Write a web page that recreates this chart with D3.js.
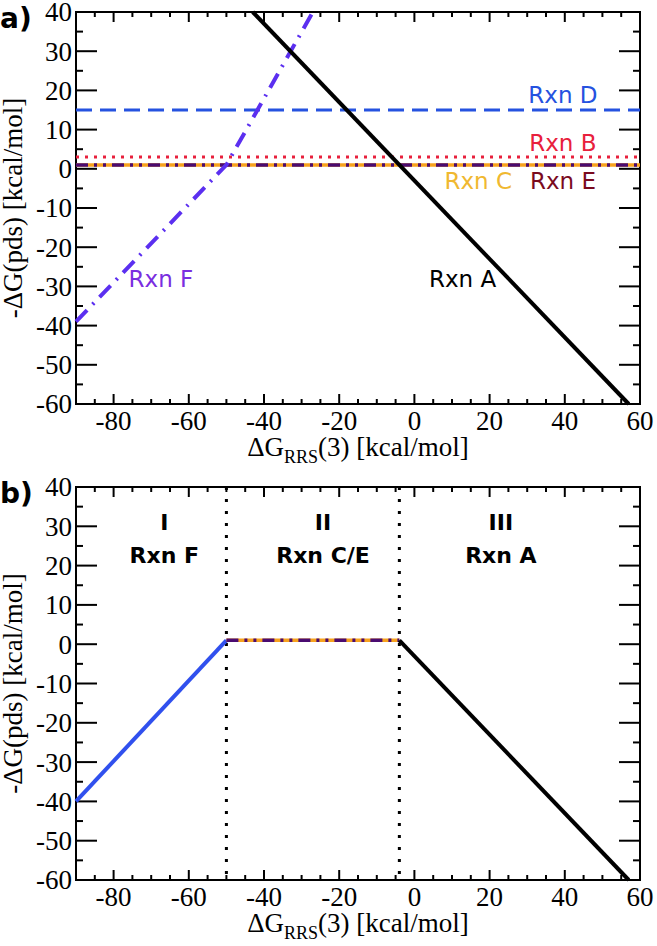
<!DOCTYPE html>
<html>
<head>
<meta charset="utf-8">
<script src="https://cdn.jsdelivr.net/npm/d3@7"></script>
<style>
  body { margin: 0; background: #fff; }
  svg { display: block; }
</style>
</head>
<body>
<script>
// axis ticks
const xTicks = [-80, -60, -40, -20, 0, 20, 40, 60];
const yTicks = [40, 30, 20, 10, 0, -10, -20, -30, -40, -50, -60];

// panel a) lines, [x, y] in kcal/mol
const rxnA = [[-43, 40], [57, -60]];
const rxnB = [[-90, 3], [60, 3]];
const rxnC = [[-90, 1], [60, 1]];
const rxnD = [[-90, 15], [60, 15]];
const rxnE = [[-90, 1], [60, 1]];
const rxnF = [[-90, -39], [-50, 1], [-27, 40]];

// panel a) labels
const labelNames = ["Rxn D", "Rxn B", "Rxn C", "Rxn E", "Rxn F", "Rxn A"];
const labelX = [39.5, 39.5, 17, 39.5, -67.4, 12.8];
const labelY = [18.8, 6.7, -3.1, -3.1, -28.1, -28.1];

// panel b) piecewise envelope
const regionF = [[-90, -40], [-50, 1]];
const regionCE = [[-50, 1], [-4, 1]];
const regionA = [[-4, 1], [57, -60]];
const boundaries = [-50, -4];
const regionNum = ["I", "II", "III"];
const regionRxn = ["Rxn F", "Rxn C/E", "Rxn A"];
const regionLabelX = [-66.5, -24.3, 23];

const width = 657;
const height = 946;
const left = 76;
const right = 640;

const svg = d3
  .select("body")
  .append("svg")
  .attr("width", width)
  .attr("height", height);

const x = d3.scaleLinear().domain([-90, 60]).range([left, right]);

function drawFrame(top, bottom, tag) {
  const y = d3.scaleLinear().domain([-60, 40]).range([bottom, top]);
  const g = svg.append("g");

  // ticks, inside on every side
  const major = { tb: 10, lr: 21 };
  const minor = { tb: 5, lr: 7 };
  d3.range(-85, 60, 5).forEach(v => {
    const len = v % 20 === 0 ? major.tb : minor.tb;
    g.append("line").attr("x1", x(v)).attr("x2", x(v))
      .attr("y1", bottom).attr("y2", bottom - len)
      .attr("stroke", "#000").attr("stroke-width", 2);
    g.append("line").attr("x1", x(v)).attr("x2", x(v))
      .attr("y1", top).attr("y2", top + len)
      .attr("stroke", "#000").attr("stroke-width", 2);
  });
  d3.range(-55, 40, 5).forEach(v => {
    const len = v % 10 === 0 ? major.lr : minor.lr;
    g.append("line").attr("x1", left).attr("x2", left + len)
      .attr("y1", y(v)).attr("y2", y(v))
      .attr("stroke", "#000").attr("stroke-width", 2);
    g.append("line").attr("x1", right).attr("x2", right - len)
      .attr("y1", y(v)).attr("y2", y(v))
      .attr("stroke", "#000").attr("stroke-width", 2);
  });

  g.append("rect")
    .attr("x", left).attr("y", top)
    .attr("width", right - left).attr("height", bottom - top)
    .attr("fill", "none").attr("stroke", "#000").attr("stroke-width", 2);

  const serif = "'Liberation Serif', 'DejaVu Serif', serif";

  g.selectAll(".yt")
    .data(yTicks)
    .enter()
    .append("text")
    .attr("x", left - 4)
    .attr("y", d => y(d))
    .attr("dy", "0.35em")
    .attr("text-anchor", "end")
    .attr("font-family", serif)
    .attr("font-size", 27)
    .text(d => d);

  g.selectAll(".xt")
    .data(xTicks)
    .enter()
    .append("text")
    .attr("x", d => x(d))
    .attr("y", bottom + 26)
    .attr("text-anchor", "middle")
    .attr("font-family", serif)
    .attr("font-size", 27)
    .text(d => d);

  const xt = g.append("text")
    .attr("x", (left + right) / 2)
    .attr("y", bottom + 52)
    .attr("text-anchor", "middle")
    .attr("font-family", serif)
    .attr("font-size", 27);
  xt.append("tspan").text("\u0394G");
  xt.append("tspan").attr("font-size", 18).attr("dy", 7).text("RRS");
  xt.append("tspan").attr("dy", -7).text("(3) [kcal/mol]");

  g.append("text")
    .attr("transform", "translate(22," + (top + bottom) / 2 + ") rotate(-90)")
    .attr("text-anchor", "middle")
    .attr("font-family", serif)
    .attr("font-size", 27)
    .text("-\u0394G(pds) [kcal/mol]");

  g.append("text")
    .attr("x", 0)
    .attr("y", top + 16)
    .attr("font-family", "'DejaVu Sans', sans-serif")
    .attr("font-weight", "bold")
    .attr("font-size", 28)
    .text(tag);

  return y;
}

function drawLine(y, data, color, w, dash) {
  const line = d3.line().x(d => x(d[0])).y(d => y(d[1]));
  svg.append("path")
    .attr("d", line(data))
    .attr("fill", "none")
    .attr("stroke", color)
    .attr("stroke-width", w)
    .attr("stroke-dasharray", dash);
}

// ---- panel a)
const ya = drawFrame(12, 404, "a)");

drawLine(ya, rxnD, "#2552e0", 3, "16,8");
drawLine(ya, rxnB, "#e8203c", 3, "3,6");
drawLine(ya, rxnC, "#f7a21e", 3.5, null);
drawLine(ya, rxnE, "#4a0b70", 3.5, "12,6,3,6,3,6");
drawLine(ya, rxnF, "#5b2ff0", 4, "16,8,2,8");
drawLine(ya, rxnA, "#000", 4, null);

const labelColors = ["#2552e0", "#e8203c", "#f0b830", "#7a0a1e", "#7a2ee0", "#000"];
svg.selectAll(".lab")
  .data(labelNames)
  .enter()
  .append("text")
  .attr("x", (d, i) => x(labelX[i]))
  .attr("y", (d, i) => ya(labelY[i]))
  .attr("dy", "0.35em")
  .attr("text-anchor", "middle")
  .attr("font-family", "'DejaVu Sans', sans-serif")
  .attr("font-size", 23)
  .attr("fill", (d, i) => labelColors[i])
  .text(d => d);

// ---- panel b)
const yb = drawFrame(487, 880, "b)");

boundaries.forEach(v => {
  svg.append("line")
    .attr("x1", x(v)).attr("x2", x(v))
    .attr("y1", 487).attr("y2", 880)
    .attr("stroke", "#000")
    .attr("stroke-width", 3)
    .attr("stroke-dasharray", "3,9");
});

drawLine(yb, regionF, "#3050ee", 4, null);
drawLine(yb, regionCE, "#f7a21e", 3.5, null);
drawLine(yb, regionCE, "#4a0b70", 3.5, "12,6,3,6,3,6");
drawLine(yb, regionA, "#000", 4, null);

regionNum.forEach((n, i) => {
  const t = svg.append("text")
    .attr("text-anchor", "middle")
    .attr("font-family", "'DejaVu Sans', sans-serif")
    .attr("font-weight", "bold")
    .attr("font-size", 22);
  t.append("tspan").attr("x", x(regionLabelX[i])).attr("y", yb(29)).text(n);
  t.append("tspan").attr("x", x(regionLabelX[i])).attr("y", yb(20.7)).text(regionRxn[i]);
});
</script>
</body>
</html>
